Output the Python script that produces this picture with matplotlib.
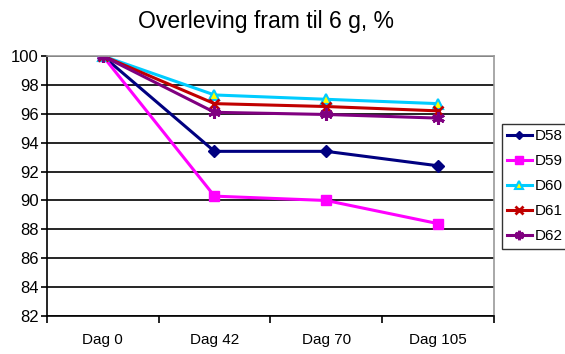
import matplotlib.pyplot as plt
from matplotlib.ticker import FixedLocator

plt.rcParams['font.family'] = ['Liberation Sans', 'DejaVu Sans']

days = ['Dag 0', 'Dag 42', 'Dag 70', 'Dag 105']
d58 = [100, 93.4, 93.4, 92.4]
d59 = [100, 90.3, 90.0, 88.4]
d60 = [100, 97.3, 97.0, 96.7]
d61 = [100, 96.7, 96.5, 96.2]
d62 = [100, 96.1, 95.95, 95.7]

fig = plt.figure(figsize=(5.65, 3.54), dpi=100)
ax = fig.add_axes([0.083, 0.107, 0.791, 0.735])

x = range(len(days))
ax.plot(x, d58, color='#000080', lw=2.2, marker='D', ms=6, label='D58')
ax.plot(x, d59, color='#FF00FF', lw=2.2, marker='s', ms=7, label='D59')
ax.plot(x, d60, color='#00CCFF', lw=2.2, marker='^', ms=7, mfc='#FFFF00', mec='#00CCFF', mew=1.5, label='D60')
ax.plot(x, d61, color='#C00000', lw=2.2, marker='x', ms=7, mew=2, label='D61')
ax.plot(x, d62, color='#800080', lw=2.2, marker=(6, 2, 0), ms=9, mew=2.2, label='D62')

ax.set_ylim(82, 100)
ax.set_yticks(range(82, 101, 2))
ax.set_xlim(-0.5, 3.5)
ax.set_xticks(list(x))
ax.set_xticklabels(days)
ax.xaxis.set_minor_locator(FixedLocator([-0.5, 0.5, 1.5, 2.5, 3.5]))
ax.tick_params(axis='x', which='major', length=0, pad=12, labelsize=11)
ax.tick_params(axis='x', which='minor', length=5, width=1.2, direction='out')
ax.tick_params(axis='y', length=4, width=1.2, labelsize=12, pad=2)

ax.yaxis.grid(True, color='black', lw=1.2)
ax.set_axisbelow(True)
ax.spines['left'].set_linewidth(1.2)
ax.spines['bottom'].set_linewidth(1.2)
for s in ('top', 'right'):
    ax.spines[s].set_color('#999999')
    ax.spines[s].set_linewidth(1.2)

fig.text(0.471, 0.938, 'Overleving fram til 6 g, %', ha='center', va='center', fontsize=16.5)

leg = fig.legend(loc='upper left', bbox_to_anchor=(0.888, 0.650), fontsize=11,
                 frameon=True, fancybox=False, edgecolor='black', borderpad=0.35,
                 labelspacing=0.72, handlelength=1.6, handletextpad=0.2, borderaxespad=0,
                 markerscale=0.75)
leg.get_frame().set_linewidth(1.0)

fig.savefig('out.png', dpi=100)
